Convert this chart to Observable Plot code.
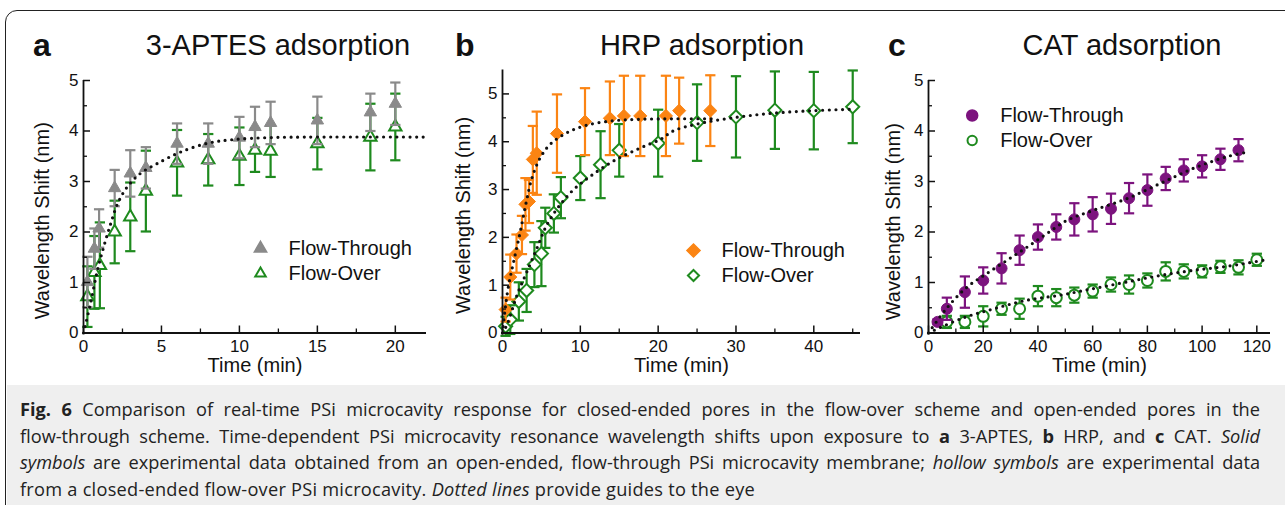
<!DOCTYPE html>
<html><head><meta charset="utf-8">
<script src="https://cdn.jsdelivr.net/npm/d3@7"></script>
<script src="https://cdn.jsdelivr.net/npm/@observablehq/plot@0.6"></script>
<style>
body{margin:0;background:#fff;width:1285px;height:505px;overflow:hidden;position:relative;font-family:"Liberation Sans",Arial,sans-serif;color:#111}
#frame{position:absolute;left:5px;top:10px;width:1310px;height:530px;border:1.6px solid #222;border-radius:12px;box-sizing:border-box}
#capbg{position:absolute;left:7px;top:385px;width:1300px;height:130px;background:#efefef;border-bottom-left-radius:10px}
.lab{position:absolute;font-weight:bold;font-size:32px;line-height:40px;top:25px}
.ttl{position:absolute;font-size:29px;line-height:40px;top:25px;text-align:center;width:400px}
.panel{position:absolute;top:60px}
#caption{position:absolute;left:20px;top:396px;width:1240px;font-family:"Open Sans";font-size:18.2px;line-height:26.7px;color:#222}
.ln{text-align:justify;text-align-last:justify;white-space:normal}
.ln.last{text-align:left;text-align-last:left;letter-spacing:0.25px}
</style></head>
<body>
<div id="frame"></div>
<div id="capbg"></div>
<div class="lab" style="left:33px">a</div>
<div class="ttl" style="left:78px">3-APTES adsorption</div>
<div class="lab" style="left:455px">b</div>
<div class="ttl" style="left:502px">HRP adsorption</div>
<div class="lab" style="left:888px">c</div>
<div class="ttl" style="left:922px">CAT adsorption</div>
<div id="pa" class="panel" style="left:0px"></div>
<div id="pb" class="panel" style="left:440px"></div>
<div id="pc" class="panel" style="left:870px"></div>
<div id="caption">
<div class="ln"><b>Fig. 6</b> Comparison of real-time PSi microcavity response for closed-ended pores in the flow-over scheme and open-ended pores in the</div>
<div class="ln">flow-through scheme. Time-dependent PSi microcavity resonance wavelength shifts upon exposure to <b>a</b> 3-APTES, <b>b</b> HRP, and <b>c</b> CAT. <i>Solid</i></div>
<div class="ln"><i>symbols</i> are experimental data obtained from an open-ended, flow-through PSi microcavity membrane; <i>hollow symbols</i> are experimental data</div>
<div class="ln last">from a closed-ended flow-over PSi microcavity. <i>Dotted lines</i> provide guides to the eye</div>
</div>
<script>
// ---------- Panel a: 3-APTES ----------
const aTimeFT = [0.25,0.7,1.0,2,3,4,6,8,10,11,12,15,18.4,20];
const aShiftFT = [1.01,1.67,2.07,2.87,3.16,3.27,3.75,3.75,3.87,4.08,4.16,4.21,4.37,4.54];
const aErrFT = [0.5,0.4,0.38,0.36,0.46,0.41,0.4,0.4,0.41,0.4,0.42,0.47,0.37,0.42];
const aTimeFO = [0.25,0.7,1.05,2,3,4,6,8,10,11,12,15,18.4,20];
const aShiftFO = [0.72,1.2,1.34,2.0,2.3,2.81,3.37,3.43,3.5,3.62,3.6,3.75,3.88,4.08];
const aErrFO = [0.6,0.72,0.85,0.62,0.68,0.8,0.65,0.51,0.57,0.43,0.51,0.51,0.66,0.66];
const aFitT = [0,0.45,0.9,1.3,1.75,2.2,2.8,3.65,4.7,6.2,8,9.6,12,15,22];
const aFitY = [0,0.59,1.25,1.71,2.17,2.57,2.89,3.16,3.35,3.58,3.76,3.83,3.87,3.88,3.88];

// ---------- Panel b: HRP ----------
const bTimeFT = [0.4,1.0,1.8,2.5,2.95,3.4,3.9,4.4,7.0,10.6,13.8,15.6,17.7,21.0,22.7,26.7];
const bShiftFT = [0.49,1.17,1.66,2.05,2.69,2.75,3.63,3.76,4.17,4.42,4.49,4.54,4.54,4.54,4.65,4.65];
const bErrFT = [0.25,0.47,0.4,0.4,0.55,0.45,0.7,0.87,0.82,0.7,0.77,0.84,0.84,0.84,0.69,0.74];
const bTimeFO = [0.4,1.0,2.1,3.1,4.1,5.0,5.5,6.6,7.5,10.0,12.6,15.0,20.0,25.0,30.0,35.0,40.0,45.0];
const bShiftFO = [0.14,0.28,0.66,0.89,1.43,1.66,2.2,2.5,2.83,3.24,3.52,3.82,3.97,4.40,4.52,4.66,4.65,4.73];
const bErrFO = [0.2,0.3,0.4,0.45,0.47,0.68,0.42,0.4,0.43,0.46,0.7,0.55,0.7,0.8,0.85,0.81,0.81,0.76];
const bFitTFT = [0,0.3,0.8,1.54,2.3,3.08,3.8,4.87,6.15,8.3,10.9,14.3,17.7,22,27];
const bFitYFT = [0,0.45,1.01,1.57,2.13,2.76,3.25,3.67,3.95,4.19,4.35,4.44,4.47,4.48,4.48];
const bFitTFO = [0,0.6,1.88,3.16,4.44,5.73,7.44,9.14,11.3,14.3,17.7,20.3,22,25,30,35,40,45];
const bFitYFO = [0,0.18,0.8,1.29,1.78,2.27,2.69,3.0,3.28,3.6,3.87,4.05,4.23,4.37,4.51,4.6,4.65,4.68];

// ---------- Panel c: CAT ----------
const cTimeFT = [3.3,6.7,13.3,20,26.7,33.3,40,46.7,53.3,60,66.7,73.3,80,86.7,93.3,100,106.7,113.3];
const cShiftFT = [0.22,0.48,0.81,1.04,1.28,1.64,1.9,2.1,2.25,2.35,2.46,2.67,2.83,3.06,3.22,3.3,3.44,3.62];
const cErrFT = [0.05,0.22,0.31,0.26,0.3,0.29,0.25,0.25,0.32,0.34,0.3,0.3,0.31,0.23,0.22,0.22,0.21,0.22];
const cTimeFO = [6.7,13.3,20,26.7,33.3,40,46.7,53.3,60,66.7,73.3,80,86.7,93.3,100,106.7,113.3,120];
const cShiftFO = [0.22,0.22,0.33,0.48,0.48,0.73,0.7,0.75,0.83,0.96,0.96,1.04,1.22,1.22,1.22,1.31,1.3,1.45];
const cErrFO = [0.12,0.12,0.2,0.12,0.2,0.2,0.17,0.15,0.13,0.14,0.18,0.14,0.18,0.14,0.12,0.12,0.14,0.12];
const cFitTFT = [0,6.8,14.1,21.4,28.7,36,43.3,50.6,60.3,72.5,84.7,96.8,109,116.3];
const cFitYFT = [0,0.5,0.91,1.18,1.44,1.7,1.97,2.23,2.43,2.66,2.96,3.26,3.49,3.58];
const cFitTFO = [0,11.7,23.9,36,48.2,60.3,72.5,84.7,96.8,109,122.4];
const cFitYFO = [0,0.28,0.48,0.65,0.75,0.88,1.01,1.14,1.24,1.32,1.44];

const seriesNames = ["Flow-Through", "Flow-Over"];
const axisTitleX = "Time (min)";
const axisTitleY = "Wavelength Shift (nm)";

const GRAY = "#8a8a8a", GREEN = "#1e8a1e", ORANGE = "#fb8413", PURPLE = "#7c137e";

const rows = (t, v, e) => t.map((x, i) => ({x, y: v[i], e: e[i]}));
const pts = (t, v) => t.map((x, i) => ({x, y: v[i]}));
const capSym = {draw(ctx, size) { const w = Math.sqrt(size) / 2; ctx.moveTo(-w, 0); ctx.lineTo(w, 0); }};
const fmt = d => String(d);

function errMarks(data, color) {
  return [
    Plot.ruleX(data, {x: "x", y1: d => d.y - d.e, y2: d => d.y + d.e, stroke: color, strokeWidth: 2.2}),
    Plot.dot(data, {x: "x", y: d => d.y - d.e, symbol: capSym, r: 5.8, stroke: color, fill: "none", strokeWidth: 2.2}),
    Plot.dot(data, {x: "x", y: d => d.y + d.e, symbol: capSym, r: 5.8, stroke: color, fill: "none", strokeWidth: 2.2})
  ];
}
function fitMark(data) {
  return Plot.line(data, {x: "x", y: "y", curve: "catmull-rom", stroke: "#111", strokeWidth: 3.2, strokeDasharray: "0 6.6", strokeLinecap: "round"});
}

function panel(o) {
  const ft = rows(o.tFT, o.vFT, o.eFT), fo = rows(o.tFO, o.vFO, o.eFO);
  const marks = [
    ...errMarks(fo, GREEN),
    Plot.dot(fo, {x: "x", y: "y", symbol: o.sym, r: o.r, stroke: GREEN, fill: "white", strokeWidth: 2}),
    ...errMarks(ft, o.ftColor),
    Plot.dot(ft, {x: "x", y: "y", symbol: o.sym, r: o.r, fill: o.ftColor, stroke: o.ftColor, strokeWidth: 1}),
    ...o.fits.map(fitMark),
    Plot.ruleX([0], {stroke: "#111", strokeWidth: 1.8}),
    Plot.ruleY([0], {stroke: "#111", strokeWidth: 1.8}),
    Plot.axisX(o.xMajor, {tickSize: 7, dy: -7, fill: "none", label: null, strokeWidth: 1.5}),
    Plot.axisX(o.xMinor, {tickSize: 4, dy: -4, fill: "none", label: null, strokeWidth: 1.3}),
    Plot.axisY(o.yMajor, {tickSize: 7, dx: 7, fill: "none", label: null, strokeWidth: 1.5}),
    Plot.axisY(o.yMinor, {tickSize: 4, dx: 4, fill: "none", label: null, strokeWidth: 1.3}),
    Plot.axisX(o.xMajor, {tickSize: 0, tickPadding: 7, fontSize: 17, label: null, tickFormat: fmt}),
    Plot.axisY(o.yMajor, {tickSize: 0, tickPadding: 5, fontSize: 17, label: null, tickFormat: fmt}),
    Plot.text([axisTitleX], {frameAnchor: "bottom", dy: 32.5, fontSize: 20, textAnchor: "middle", lineAnchor: "middle"}),
    Plot.text([axisTitleY], {frameAnchor: "left", rotate: -90, dx: -o.yLabOff, dy: o.yLabDy, fontSize: 20, textAnchor: "middle", lineAnchor: "middle"}),
    Plot.dot([0], {frameAnchor: "top-left", dx: o.lx, dy: o.ly, symbol: o.sym, r: o.r, fill: o.ftColor, stroke: o.ftColor}),
    Plot.dot([0], {frameAnchor: "top-left", dx: o.lx, dy: o.ly + 25, symbol: o.sym, r: o.r * 0.85, fill: "white", stroke: GREEN, strokeWidth: 2}),
    Plot.text([seriesNames[0]], {frameAnchor: "top-left", dx: o.lx + 28, dy: o.ly, textAnchor: "start", lineAnchor: "middle", fontSize: 20}),
    Plot.text([seriesNames[1]], {frameAnchor: "top-left", dx: o.lx + 28, dy: o.ly + 25, textAnchor: "start", lineAnchor: "middle", fontSize: 20})
  ];
  return Plot.plot({
    width: o.width, height: 320,
    marginLeft: o.ml, marginRight: o.mr, marginTop: o.mt, marginBottom: 47.5,
    x: {domain: o.xDomain, axis: null},
    y: {domain: o.yDomain, axis: null},
    style: {fontFamily: "'Liberation Sans', Arial, sans-serif", fontSize: "17px", color: "#111", background: "transparent", overflow: "visible"},
    marks
  });
}

document.getElementById("pa").append(panel({
  width: 440, ml: 83, mr: 14, mt: 20, xDomain: [0, 22], yDomain: [0, 5],
  xMajor: [0,5,10,15,20], xMinor: [2.5,7.5,12.5,17.5], yMajor: [0,1,2,3,4,5], yMinor: [0.5,1.5,2.5,3.5,4.5],
  tFT: aTimeFT, vFT: aShiftFT, eFT: aErrFT, tFO: aTimeFO, vFO: aShiftFO, eFO: aErrFO,
  fits: [pts(aFitT, aFitY)], sym: "triangle", r: 4.6, ftColor: GRAY,
  yLabOff: 41, yLabDy: 14, lx: 177, ly: 168
}));
document.getElementById("pb").append(panel({
  width: 430, ml: 62, mr: 10, mt: 9.5, xDomain: [0, 46], yDomain: [0, 5.5],
  xMajor: [0,10,20,30,40], xMinor: [5,15,25,35,45], yMajor: [0,1,2,3,4,5], yMinor: [0.5,1.5,2.5,3.5,4.5],
  tFT: bTimeFT, vFT: bShiftFT, eFT: bErrFT, tFO: bTimeFO, vFO: bShiftFO, eFO: bErrFO,
  fits: [pts(bFitTFT, bFitYFT), pts(bFitTFO, bFitYFO)], sym: "diamond2", r: 5.9, ftColor: ORANGE,
  yLabOff: 39, yLabDy: 14, lx: 191, ly: 180.5
}));
document.getElementById("pc").append(panel({
  width: 415, ml: 58, mr: 15, mt: 20, xDomain: [0, 125], yDomain: [0, 5],
  xMajor: [0,20,40,60,80,100,120], xMinor: [10,30,50,70,90,110], yMajor: [0,1,2,3,4,5], yMinor: [0.5,1.5,2.5,3.5,4.5],
  tFT: cTimeFT, vFT: cShiftFT, eFT: cErrFT, tFO: cTimeFO, vFO: cShiftFO, eFO: cErrFO,
  fits: [pts(cFitTFT, cFitYFT), pts(cFitTFO, cFitYFO)], sym: "circle", r: 5.5, ftColor: PURPLE,
  yLabOff: 35, yLabDy: 15, lx: 43.7, ly: 35
}));
</script>
</body></html>
